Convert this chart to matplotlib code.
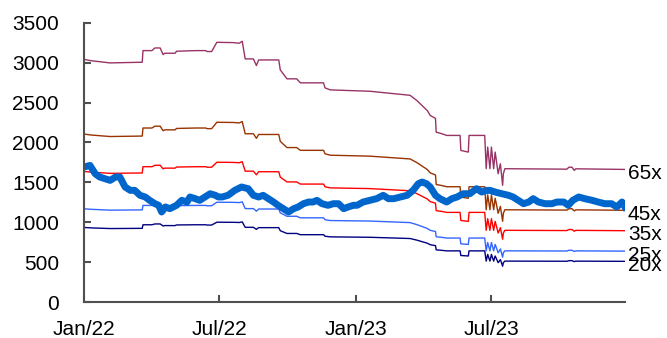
import numpy as np
import matplotlib
matplotlib.use('Agg')
import matplotlib.pyplot as plt
import matplotlib.dates as mdates

plt.rcParams['font.family'] = ['Liberation Sans', 'DejaVu Sans']

# days counted from 1 Jan 2022
start = np.datetime64('2022-01-01')

# index level (thick blue line)
price_days = [0, 8, 15, 21, 28, 35, 42, 48, 55, 62, 68, 75, 82, 88, 95, 100,
              104, 109, 115, 124, 131, 138, 142, 149, 155, 162, 169, 176, 180,
              185, 193, 202, 211, 220, 227, 234, 240, 247, 254, 260, 267, 274,
              281, 287, 294, 301, 307, 312, 319, 327, 334, 341, 348, 354, 361,
              366, 374, 383, 392, 401, 408, 415, 424, 433, 441, 448, 453, 459,
              464, 471, 477, 486, 493, 500, 508, 517, 526, 533, 540,
              544, 551, 560, 569, 575, 582, 589, 596, 602, 609, 618, 627, 634,
              643, 649, 655, 663, 671, 681, 689, 698, 707, 714, 721, 725]
price = [1692, 1712, 1608, 1567, 1546, 1525, 1567, 1567, 1442, 1400, 1400, 1338,
         1317, 1275, 1233, 1213, 1129, 1192, 1171, 1213, 1275, 1254, 1317, 1296,
         1275, 1317, 1358, 1338, 1317,
         1317, 1338, 1400, 1442, 1421, 1338, 1317, 1338, 1296, 1254, 1213, 1171,
         1129, 1171, 1192, 1233, 1254, 1254, 1275, 1233, 1213, 1233, 1233, 1171,
         1192, 1213,
         1213, 1254, 1275, 1296, 1338, 1296, 1296, 1317, 1338, 1400, 1483, 1504,
         1483, 1442, 1338, 1296, 1254, 1296, 1317, 1358, 1358, 1421, 1379, 1400,
         1400, 1379, 1358, 1338, 1317, 1275, 1233, 1254, 1296, 1254, 1233, 1233,
         1254, 1254, 1213, 1275, 1317, 1296, 1275, 1254, 1233, 1233, 1192, 1254,
         1192]

# forward earnings per share used for the PE bands
eps_days = [0, 10, 35, 78, 79, 91, 95, 102, 106, 108, 122, 124, 150, 163, 165,
            171, 178, 200, 208, 212, 216, 227, 231, 234, 261, 263, 272, 285,
            290, 321, 323, 330, 383, 437, 446, 460, 464, 471, 472, 480, 486,
            504, 505, 515, 516, 537, 539, 541, 544, 546, 549, 551, 553, 555,
            558, 561, 562, 564, 647, 650, 654, 657, 659, 725]
eps = [46.77, 46.50, 46.09, 46.22, 48.46, 48.46, 48.97, 48.97, 47.69, 47.95,
       47.95, 48.34, 48.46, 48.46, 48.28, 48.28, 50.06, 50.00, 49.88, 50.26,
       46.86, 46.86, 45.58, 46.66, 46.66, 44.74, 43.02, 43.02, 42.25, 42.25,
       41.28, 40.89, 40.63, 39.85, 38.85, 36.92, 35.97, 35.40, 32.75, 32.43,
       32.12, 32.12, 29.23, 28.91, 32.12, 32.12, 25.71, 29.88, 25.71, 29.88,
       25.71, 28.91, 26.90, 24.74, 26.66, 22.51, 24.74, 25.71, 25.62, 26.00,
       26.00, 25.38, 25.69, 25.57]

multiples = [65, 45, 35, 25, 20]
band_labels = ['65x', '45x', '35x', '25x', '20x']
band_colors = ['#993366', '#993300', '#FF0000', '#3366FF', '#000080']

price_dates = start + np.array(price_days).astype('timedelta64[D]')
eps_dates = start + np.array(eps_days).astype('timedelta64[D]')

fig = plt.figure(figsize=(6.67, 3.38), dpi=100)
ax = fig.add_axes([0.126, 0.106, 0.811, 0.827])

for m, lab, col in zip(multiples, band_labels, band_colors):
    band = np.array(eps) * m
    ax.plot(eps_dates, band, color=col, lw=1.0)
    ax.annotate(lab, xy=(eps_dates[-1], band[-1]), xytext=(2, -3),
                textcoords='offset points', va='center', ha='left',
                fontsize=15, annotation_clip=False)

ax.plot(price_dates, price, color='#0066CC', lw=5, solid_joinstyle='round')

ax.set_ylim(0, 3500)
ax.set_yticks(range(0, 3501, 500))
ax.set_xlim(start, eps_dates[-1])
ax.xaxis.set_major_locator(mdates.MonthLocator(bymonth=[1, 7]))
ax.xaxis.set_major_formatter(mdates.DateFormatter('%b/%y'))

for s in ['top', 'right']:
    ax.spines[s].set_visible(False)
for s in ['left', 'bottom']:
    ax.spines[s].set_color('#505050')
    ax.spines[s].set_linewidth(1.5)
ax.tick_params(direction='in', length=5, width=1.5, color='#505050',
               labelsize=15)
ax.tick_params(axis='y', pad=18)
ax.tick_params(axis='x', pad=13)

fig.savefig('out.png', dpi=100)
